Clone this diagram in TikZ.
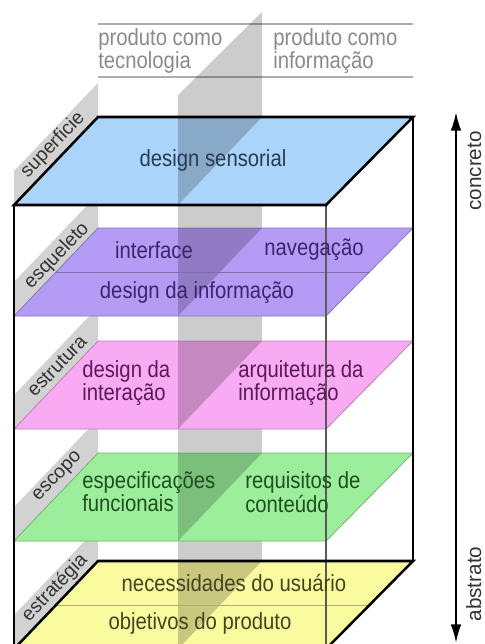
\documentclass[tikz,border=0pt]{standalone}
\usepackage{fontspec}
\usepackage{graphicx}
\setmainfont{Liberation Sans}
\usetikzlibrary{arrows.meta}
\definecolor{cblue}{HTML}{AAD4FA}
\definecolor{cpurple}{HTML}{B49CF5}
\definecolor{cpink}{HTML}{F8AAF2}
\definecolor{cgreen}{HTML}{9CEE9C}
\definecolor{cyellow}{HTML}{FAFA9E}
\definecolor{bandgray}{HTML}{D2D2D2}
\definecolor{tgray}{HTML}{8A8A8A}
\definecolor{tblue}{HTML}{2A3A55}
\definecolor{tpurple}{HTML}{3C2470}
\definecolor{tpink}{HTML}{5A1A58}
\definecolor{tgreen}{HTML}{1F4F1F}
\definecolor{tyellow}{HTML}{444420}
\definecolor{tlabel}{HTML}{333333}
\newcommand\hsq[1]{\scalebox{0.87}[1]{#1}}
\newcommand\twol[2]{\hsq{\begin{tabular}{@{}l@{}}#1\\#2\end{tabular}}}
\begin{document}
\begin{tikzpicture}[x=0.75pt,y=-0.75pt,
  main/.style={inner sep=0pt,font=\fontsize{17.5}{16}\selectfont},
  lab/.style={inner sep=0pt,rotate=46,text=tlabel,font=\fontsize{14.5}{16}\selectfont},
  side/.style={inner sep=0pt,rotate=90,anchor=base,text=tlabel,font=\fontsize{15.5}{18}\selectfont},
  sheet/.style={fill=black,fill opacity=0.2},
  edge/.style={line width=1.9pt,line join=miter,line cap=rect},
  topline/.style={draw=black!32,line width=0.8pt}]
\useasboundingbox (0,0) rectangle (485,644);
\fill[white] (0,0) rectangle (485,644);
% top lines and header texts
\draw[topline] (98,24) -- (413,24);
\draw[topline] (98,77) -- (413,77);
\node[main,text=tgray,anchor=west] (tec) at (98,52) {\twol{produto como}{tecnologia}};
\node[main,text=tgray,anchor=west] (inf) at (273,52) {\twol{produto como}{informação}};
% vertical middle sheet
\fill[sheet] (178,95) -- (262,12) -- (262,644) -- (178,644) -- cycle;
% layers from bottom to top
\foreach \yb/\col in {561/cyellow,453/cgreen,341/cpink,228/cpurple,117/cblue} {
  \fill[bandgray] (14,\yb+88) -- (98,\yb) -- (98,\yb-34) -- (14,\yb+54) -- cycle;
  \filldraw[fill=\col,draw=\col!75!black,line width=0.6pt] (14,\yb+88) -- (98,\yb) -- (413,\yb) -- (326,\yb+88) -- cycle;
  \fill[sheet] (178,\yb) -- (262,\yb) -- (178,\yb+88) -- cycle;
}
% division lines
\draw[cpurple!70!black,line width=0.6pt] (56,272) -- (370,272);
\draw[cyellow!70!black,line width=0.6pt] (56,605) -- (370,605);
% cube edges
\draw[black!65,line width=0.8pt] (326,205) -- (326,644);
\draw[edge] (14,205) -- (14,644);
\draw[edge] (413,117) -- (413,561);
\draw[edge] (14,205) -- (98,117) -- (413,117) -- (326,205) -- cycle;
\draw[edge] (14,649) -- (98,561) -- (413,561) -- (326,649);
% plane texts
\node[main,text=tblue] (sens) at (213,160) {\hsq{design sensorial}};
\node[main,text=tpurple] (intf) at (154,250) {\hsq{interface}};
\node[main,text=tpurple] (nav) at (314,250) {\hsq{navegação}};
\node[main,text=tpurple] (dinf) at (197,293) {\hsq{design da informação}};
\node[main,text=tpink,anchor=west] (dint) at (82,384) {\twol{design da}{interação}};
\node[main,text=tpink,anchor=west] (arq) at (238,384) {\twol{arquitetura da}{informação}};
\node[main,text=tgreen,anchor=west] (espf) at (82,495) {\twol{especificações}{funcionais}};
\node[main,text=tgreen,anchor=west] (req) at (245,495) {\twol{requisitos de}{conteúdo}};
\node[main,text=tyellow] (nec) at (234,583) {\hsq{necessidades do usuário}};
\node[main,text=tyellow] (obj) at (200,623) {\hsq{objetivos do produto}};
% side labels
\node[lab] (l1) at (53,145) {superficie};
\node[lab] (l2) at (57,256) {esqueleto};
\node[lab] (l3) at (57,366) {estrutura};
\node[lab] (l4) at (58,477) {escopo};
\node[lab] (l5) at (55,588) {estratégia};
% right arrow
\coordinate (atop) at (456,112);
\coordinate (abot) at (456,643);
\draw[line width=1.5pt,{Latex[length=14pt,width=8pt]}-{Latex[length=14pt,width=8pt]}] (atop) -- (abot);
\node[side] (conc) at (481,171) {concreto};
\node[side] (abst) at (481,584) {abstrato};
\end{tikzpicture}
\end{document}
